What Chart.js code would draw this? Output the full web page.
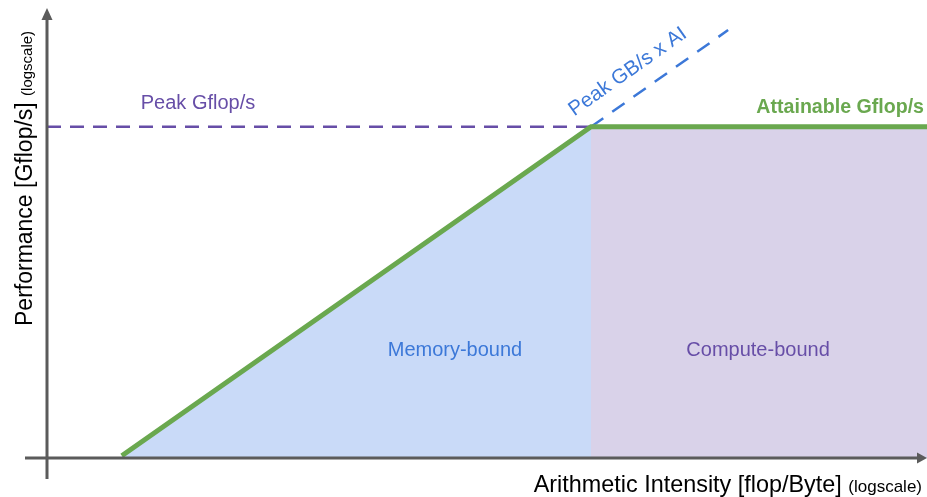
<!DOCTYPE html>
<html>
<head>
<meta charset="utf-8">
<script src="https://cdn.jsdelivr.net/npm/chart.js@4"></script>
<style>
  html, body { margin: 0; padding: 0; background: #ffffff; }
  #wrap { width: 927px; height: 497px; }
</style>
</head>
<body>
<div id="wrap"><canvas id="c" width="927" height="497"></canvas></div>
<script>
// ---- data (abstract log-scale units) ----
const roofX = [0.85, 6.182, 10];       // attainable roofline: AI
const roofY = [0.05, 7.36, 7.36];      // attainable roofline: performance
const peakFlopX = [0, 6.182];          // peak Gflop/s dashed line
const peakFlopY = [7.36, 7.36];
const bandwidthX = [6.182, 7.74];      // peak GB/s x AI dashed line
const bandwidthY = [7.36, 9.51];
const memRegionX = [0.85, 6.182];
const memRegionY = [0.05, 7.36];
const compRegionX = [6.182, 10];
const compRegionY = [7.36, 7.36];
const labels = ['Peak Gflop/s', 'Peak GB/s x AI', 'Attainable Gflop/s', 'Memory-bound', 'Compute-bound'];
const xTitle = ['Arithmetic Intensity [flop/Byte]', '(logscale)'];
const yTitle = ['Performance [Gflop/s]', '(logscale)'];

const pts = (xs, ys) => xs.map((x, i) => ({ x: x, y: ys[i] }));

const FONT = '"Liberation Sans", Arial, sans-serif';
const C_GREEN = '#6aa84f', C_BLUE = '#3c78d8', C_PURPLE = '#674ea7', C_AXIS = '#5b5b5b';

const decor = {
  id: 'decor',
  afterDatasetsDraw(chart) {
    const ctx = chart.ctx, xs = chart.scales.x, ys = chart.scales.y, a = chart.chartArea;
    ctx.save();
    // axes
    ctx.strokeStyle = C_AXIS; ctx.fillStyle = C_AXIS; ctx.lineWidth = 3;
    const x0 = xs.getPixelForValue(0), y0 = ys.getPixelForValue(0);
    ctx.beginPath(); ctx.moveTo(x0, a.bottom + 21); ctx.lineTo(x0, a.top + 10); ctx.stroke();
    ctx.beginPath(); ctx.moveTo(x0, a.top); ctx.lineTo(x0 - 5.5, a.top + 12); ctx.lineTo(x0 + 5.5, a.top + 12); ctx.closePath(); ctx.fill();
    ctx.beginPath(); ctx.moveTo(a.left - 22, y0); ctx.lineTo(a.right - 8, y0); ctx.stroke();
    ctx.beginPath(); ctx.moveTo(a.right, y0); ctx.lineTo(a.right - 10, y0 - 5.5); ctx.lineTo(a.right - 10, y0 + 5.5); ctx.closePath(); ctx.fill();

    // in-plot labels
    ctx.textBaseline = 'middle'; ctx.textAlign = 'center';
    ctx.font = '20px ' + FONT;
    ctx.fillStyle = C_PURPLE;
    ctx.fillText(labels[0], xs.getPixelForValue(1.716), ys.getPixelForValue(7.87));
    ctx.fillText(labels[4], xs.getPixelForValue(8.08), ys.getPixelForValue(2.4));
    ctx.fillStyle = C_BLUE;
    ctx.fillText(labels[3], xs.getPixelForValue(4.636), ys.getPixelForValue(2.4));
    // rotated bandwidth label
    const px1 = xs.getPixelForValue(bandwidthX[0]), py1 = ys.getPixelForValue(bandwidthY[0]);
    const px2 = xs.getPixelForValue(bandwidthX[1]), py2 = ys.getPixelForValue(bandwidthY[1]);
    const ang = Math.atan2(py2 - py1, px2 - px1);
    ctx.save();
    ctx.translate(xs.getPixelForValue(6.6), ys.getPixelForValue(8.58));
    ctx.rotate(ang);
    ctx.font = '20.5px ' + FONT;
    ctx.fillText(labels[1], 0, 0);
    ctx.restore();
    // attainable
    ctx.fillStyle = C_GREEN; ctx.font = 'bold 19.6px ' + FONT;
    ctx.textAlign = 'right'; ctx.textBaseline = 'alphabetic';
    ctx.fillText(labels[2], xs.getPixelForValue(9.966), ys.getPixelForValue(7.67));

    // axis titles
    ctx.fillStyle = '#000000';
    ctx.textAlign = 'left'; ctx.textBaseline = 'alphabetic';
    ctx.font = '17px ' + FONT;
    const wSmall = ctx.measureText(xTitle[1]).width;
    ctx.font = '23.4px ' + FONT;
    const wBig = ctx.measureText(xTitle[0] + ' ').width;
    const xEnd = 922;
    ctx.fillText(xTitle[0] + ' ', xEnd - wSmall - wBig, 492);
    ctx.font = '17px ' + FONT;
    ctx.fillText(xTitle[1], xEnd - wSmall, 492);

    ctx.save();
    ctx.translate(32, 326);
    ctx.rotate(-Math.PI / 2);
    ctx.font = '23px ' + FONT;
    ctx.fillText(yTitle[0] + ' ', 0, 0);
    const wy = ctx.measureText(yTitle[0] + ' ').width;
    ctx.font = '15px ' + FONT;
    ctx.fillText(yTitle[1], wy, 0);
    ctx.restore();

    ctx.restore();
  }
};

new Chart(document.getElementById('c'), {
  type: 'line',
  data: {
    datasets: [
      { data: pts(roofX, roofY), borderColor: C_GREEN, borderWidth: 5, pointRadius: 0, fill: false, order: 0, borderJoinStyle: 'miter' },
      { data: pts(peakFlopX, peakFlopY), borderColor: C_PURPLE, borderWidth: 2.5, borderDash: [14, 9], pointRadius: 0, fill: false, order: 1 },
      { data: pts(bandwidthX, bandwidthY), borderColor: C_BLUE, borderWidth: 2.5, borderDash: [15, 11], pointRadius: 0, fill: false, order: 2 },
      { data: pts(memRegionX, memRegionY), borderWidth: 0, borderColor: 'rgba(0,0,0,0)', backgroundColor: '#c9daf8', pointRadius: 0, fill: 'origin', order: 3 },
      { data: pts(compRegionX, compRegionY), borderWidth: 0, borderColor: 'rgba(0,0,0,0)', backgroundColor: '#d9d2e9', pointRadius: 0, fill: 'origin', order: 4 }
    ]
  },
  options: {
    responsive: false,
    animation: false,
    devicePixelRatio: 1,
    layout: { padding: { left: 47, top: 8, right: 0, bottom: 39 } },
    plugins: { legend: { display: false }, tooltip: { enabled: false }, title: { display: false } },
    scales: {
      x: { type: 'linear', min: 0, max: 10, display: false },
      y: { type: 'linear', min: 0, max: 10, display: false }
    },
    elements: { line: { tension: 0 } }
  },
  plugins: [decor]
});
</script>
</body>
</html>
